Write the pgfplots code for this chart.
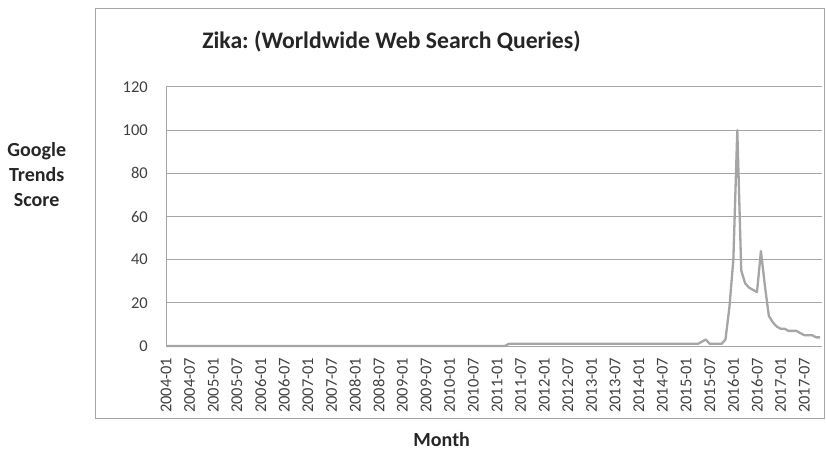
\documentclass[border=0pt]{standalone}
\usepackage{fontspec}
\setmainfont{Carlito}
\usepackage{pgfplots}
\pgfplotsset{compat=1.18}
\definecolor{gridc}{HTML}{A6A6A6}
\definecolor{linec}{HTML}{A5A5A5}
\definecolor{txt}{HTML}{404040}
\frenchspacing
\begin{document}
\begin{tikzpicture}
\useasboundingbox (-166bp,-105bp) rectangle (660bp,346bp);
\draw[gridc, line width=0.8bp] (-71bp,338bp) rectangle (658bp,-72bp);
\begin{axis}[
  at={(0,0)}, anchor=origin,
  scale only axis,
  width=656bp, height=259bp,
  xmin=0, xmax=166.5, ymin=0, ymax=120,
  ytick={0,20,...,120},
  xtick={0,6,...,162},
  xticklabels={2004-01,2004-07,2005-01,2005-07,2006-01,2006-07,2007-01,2007-07,2008-01,2008-07,2009-01,2009-07,2010-01,2010-07,2011-01,2011-07,2012-01,2012-07,2013-01,2013-07,2014-01,2014-07,2015-01,2015-07,2016-01,2016-07,2017-01,2017-07},
  major tick length=0pt,
  ymajorgrids,
  grid style={gridc, line width=1bp},
  axis x line*=bottom, axis y line*=left,
  axis line style={gridc, line width=1bp, -},
  /pgf/number format/assume math mode=true,
  yticklabel style={font=\fontsize{16.5bp}{19bp}\selectfont, text=txt, anchor=east, inner sep=0pt, inner xsep=18bp},
  xticklabel style={font=\fontsize{16.5bp}{19bp}\selectfont, text=txt, rotate=90, anchor=east, inner sep=0pt, inner xsep=11.5bp},
  clip=false,
]
\addplot[linec, line width=2.3bp, line join=round] coordinates {
(0,0)(1,0)(2,0)(3,0)(4,0)(5,0)(6,0)(7,0)(8,0)(9,0)
(10,0)(11,0)(12,0)(13,0)(14,0)(15,0)(16,0)(17,0)(18,0)(19,0)
(20,0)(21,0)(22,0)(23,0)(24,0)(25,0)(26,0)(27,0)(28,0)(29,0)
(30,0)(31,0)(32,0)(33,0)(34,0)(35,0)(36,0)(37,0)(38,0)(39,0)
(40,0)(41,0)(42,0)(43,0)(44,0)(45,0)(46,0)(47,0)(48,0)(49,0)
(50,0)(51,0)(52,0)(53,0)(54,0)(55,0)(56,0)(57,0)(58,0)(59,0)
(60,0)(61,0)(62,0)(63,0)(64,0)(65,0)(66,0)(67,0)(68,0)(69,0)
(70,0)(71,0)(72,0)(73,0)(74,0)(75,0)(76,0)(77,0)(78,0)(79,0)
(80,0)(81,0)(82,0)(83,0)(84,0)(85,0)(86,0)(87,1)(88,1)(89,1)
(90,1)(91,1)(92,1)(93,1)(94,1)(95,1)(96,1)(97,1)(98,1)(99,1)
(100,1)(101,1)(102,1)(103,1)(104,1)(105,1)(106,1)(107,1)(108,1)(109,1)
(110,1)(111,1)(112,1)(113,1)(114,1)(115,1)(116,1)(117,1)(118,1)(119,1)
(120,1)(121,1)(122,1)(123,1)(124,1)(125,1)(126,1)(127,1)(128,1)(129,1)
(130,1)(131,1)(132,1)(133,1)(134,1)(135,1)(136,2)(137,3)(138,1)(139,1)
(140,1)(141,1)(142,3)(143,18)(144,40)(145,100)(146,35)(147,29)(148,27)(149,26)
(150,25)(151,44)(152,28)(153,14)(154,11)(155,9)(156,8)(157,8)(158,7)(159,7)
(160,7)(161,6)(162,5)(163,5)(164,5)(165,4)(166,4)
};
\end{axis}
\node[font=\fontsize{23.7bp}{28bp}\selectfont\bfseries, text={black!85}, inner sep=0pt] at (225.5bp,304bp) {Zika: (Worldwide Web Search Queries)};
\node[font=\fontsize{20bp}{25bp}\selectfont\bfseries, text={black!85}, align=center] at (-129.3bp,171bp) {Google\\Trends\\Score};
\node[font=\fontsize{20bp}{24bp}\selectfont\bfseries, text={black!85}, inner sep=0pt] at (275.7bp,-94bp) {Month};
\end{tikzpicture}
\end{document}
